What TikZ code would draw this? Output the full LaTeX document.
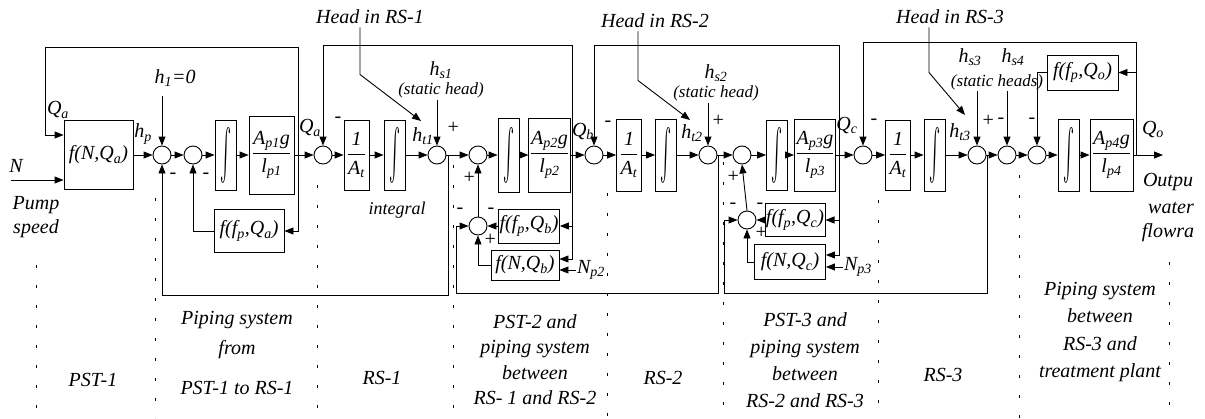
\documentclass[tikz,border=0pt]{standalone}
\usepackage{fontspec}
\setmainfont{Liberation Serif}
\usetikzlibrary{arrows.meta,positioning,calc}
\newcommand{\sbs}[1]{\textsubscript{#1}}
\newcommand{\blockfrac}[2]{$\displaystyle\frac{\mbox{#1}}{\mbox{#2}}$}
\newcommand{\intsym}{\resizebox{11pt}{54pt}{$\int$}}

\begin{document}
\begin{tikzpicture}[x=1pt, y=-1pt, line width=0.9pt,
    every node/.style={font=\fontsize{20}{24}\selectfont\itshape, inner sep=1pt},
    block/.style={draw, inner sep=1pt},
    intbox/.style={draw, minimum width=21pt, minimum height=70pt, inner sep=0pt},
    sumnode/.style={draw, circle, minimum size=18pt, inner sep=0pt},
    statlab/.style={align=center, font=\fontsize{17}{19}\selectfont\itshape},
    sig/.style={-{Triangle[length=9pt,width=7pt]}},
    bnd/.style={line width=0.8pt, dash pattern=on 3pt off 17pt}]
  \useasboundingbox (0,0) rectangle (1205,418);

  % PST-1
  \node[block, minimum width=69pt, minimum height=69pt] (fna) at (98.5,155) {f(N,Q\sbs{a})};
  \node (nlab) at (16,166) {N};
  \node[align=center] (pump) at (36,217) {Pump\\speed};
  \node (qalab) at (58,110) {Q\sbs{a}};
  \node (hplab) at (143,134) {h\sbs{p}};
  \node[sumnode] (s1) at (162,155) {};
  \node[sumnode] (s2) at (193,155) {};
  \node (h1lab) at (175,78) {h\sbs{1}=0};
  \node (m1) at (173,176) {-};
  \node (m2) at (206,176) {-};
  \node[intbox] (i1) at (225.5,155) {\intsym};
  \node[block, minimum width=45pt, minimum height=78pt] (f1) at (271.5,155) {\blockfrac{A\sbs{p1}g}{l\sbs{p1}}};
  \node[block, minimum width=70pt, minimum height=43pt] (ffa) at (249,231) {f(f\sbs{p},Q\sbs{a})};

  % RS-1
  \node[sumnode] (sqa) at (323,155) {};
  \node (qalab2) at (310,128) {Q\sbs{a}};
  \node (m3) at (338,120) {-};
  \node[block, minimum width=25pt, minimum height=70pt] (ra1) at (356.5,155) {\blockfrac{1}{A\sbs{t}}};
  \node[intbox] (ir1) at (394.5,155) {\intsym};
  \node[sumnode] (sht1) at (437,155) {};
  \node (ht1lab) at (423,136) {h\sbs{t1}};
  \node (p1) at (453,128) {+};
  \node[statlab] (hs1) at (441,80) {{\fontsize{20}{19}\selectfont h\sbs{s1}}\\(static head)};
  \node (head1) at (370,17) {Head in RS-1};
  \node[font=\fontsize{18}{20}\selectfont\itshape] (intg) at (397,210) {integral};

  % PST-2
  \node[sumnode] (su2) at (478,155) {};
  \node (p2) at (469,178) {+};
  \node[intbox, minimum height=74pt] (i2) at (508.5,155) {\intsym};
  \node[block, minimum width=40pt, minimum height=74pt] (f2) at (549.5,155) {\blockfrac{A\sbs{p2}g}{l\sbs{p2}}};
  \node[sumnode] (sl2) at (478,226) {};
  \node[block, minimum width=60pt, minimum height=34pt] (ffb) at (529,226) {f(f\sbs{p},Q\sbs{b})};
  \node[block, minimum width=68pt, minimum height=30pt] (fnb) at (525,265) {f(N,Q\sbs{b})};
  \node (np2) at (591,270) {N\sbs{p2}};
  \node (m4) at (460,211) {-};
  \node (m5) at (491,211) {-};
  \node (p3) at (490,240) {+};

  % RS-2
  \node[sumnode] (sqb) at (594,155) {};
  \node (qblab) at (583,131) {Q\sbs{b}};
  \node (m6) at (608,124) {-};
  \node[block, minimum width=25pt, minimum height=72pt] (ra2) at (629,155) {\blockfrac{1}{A\sbs{t}}};
  \node[intbox, minimum height=72pt] (ir2) at (666,155) {\intsym};
  \node[sumnode] (sht2) at (708,155) {};
  \node (ht2lab) at (692,133) {h\sbs{t2}};
  \node (p4) at (718,121) {+};
  \node[statlab] (hs2) at (716,83) {{\fontsize{20}{19}\selectfont h\sbs{s2}}\\(static head)};
  \node (head2) at (655,21) {Head in RS-2};

  % PST-3
  \node[sumnode] (su3) at (742,155) {};
  \node (p5) at (733,177) {+};
  \node[intbox] (i3) at (777,155) {\intsym};
  \node[block, minimum width=40pt, minimum height=72pt] (f3) at (815,155) {\blockfrac{A\sbs{p3}g}{l\sbs{p3}}};
  \node[sumnode] (sl3) at (747,220) {};
  \node[block, minimum width=60pt, minimum height=33pt] (ffc) at (795,220) {f(f\sbs{p},Q\sbs{c})};
  \node[block, minimum width=71pt, minimum height=35pt] (fnc) at (790,262) {f(N,Q\sbs{c})};
  \node (np3) at (858,267) {N\sbs{p3}};
  \node (m7) at (733,206) {-};
  \node (m8) at (760,206) {-};
  \node (p6) at (761,233) {+};

  % RS-3
  \node[sumnode] (sqc) at (863,155) {};
  \node (qclab) at (847,125) {Q\sbs{c}};
  \node (m9) at (874,122) {-};
  \node[block, minimum width=25pt, minimum height=70pt] (ra3) at (898,155) {\blockfrac{1}{A\sbs{t}}};
  \node[intbox, minimum height=72pt] (ir3) at (934.5,155) {\intsym};
  \node[sumnode] (sht3) at (977,155) {};
  \node (ht3lab) at (960,132) {h\sbs{t3}};
  \node (p7) at (988,121) {+};
  \node (m10) at (1001,121) {-};
  \node[sumnode] (s4) at (1007,155) {};
  \node[sumnode] (s5) at (1037,155) {};
  \node (m11) at (1032,121) {-};
  \node (hs3) at (970,57) {h\sbs{s3}};
  \node (hs4) at (1013,57) {h\sbs{s4}};
  \node[statlab] (st3) at (997,82) {(static heads)};
  \node (head3) at (950,17) {Head in RS-3};

  % treatment plant line
  \node[block, minimum width=71pt, minimum height=35pt] (ffo) at (1082.5,72.5) {f(f\sbs{p},Q\sbs{o})};
  \node[intbox, minimum height=72pt] (i4) at (1068.5,155) {\intsym};
  \node[block, minimum width=43pt, minimum height=72pt] (f4) at (1111.5,155) {\blockfrac{A\sbs{p4}g}{l\sbs{p4}}};
  \node (qolab) at (1153,129) {Q\sbs{o}};
  \node (out1) at (1168,182) {Outpu};
  \node (out2) at (1171,208) {water};
  \node (out3) at (1168,233) {flowra};

  % branch points
  \coordinate (nin) at (11,180);
  \coordinate (h1in) at (162,96);
  \coordinate (qa) at (298,155);
  \coordinate (qatop) at (298,47);
  \coordinate (qaleft) at (45,47);
  \coordinate (fb1) at (448,155);
  \coordinate (qb) at (572,155);
  \coordinate (qbtop) at (572,45);
  \coordinate (fb2) at (718,155);
  \coordinate (qc) at (839,155);
  \coordinate (qctop) at (839,45);
  \coordinate (fb3) at (987,155);
  \coordinate (qo) at (1136,155);
  \coordinate (qotop) at (1136,42);
  \coordinate (qoend) at (1163,155);
  \coordinate (ht1tip) at (421,121);
  \coordinate (ht2tip) at (690,120);
  \coordinate (ht3tip) at (965,115);

  % connectors
  \draw[sig] (nin) -- (nin -| fna.west);
  \draw[sig] (qa) -- (qatop) -- (qaleft) |- ($(fna.west)+(0,-20)$);
  \draw[sig] (fna.east) -- (s1.west);
  \draw[sig] (h1in) -- (s1.north);
  \draw[sig] (s1.east) -- (s2.west);
  \draw[sig] (s2.east) -- (i1.west);
  \draw[sig] (i1.east) -- (f1.west);
  \draw[sig] (f1.east) -- (sqa.west);
  \draw[sig] (qa) |- (ffa.east);
  \draw[sig] (ffa.west) -| (s2.south);
  \draw[sig] (fb1) -- ++(0,140) -| (s1.south);

  \draw[sig] (sqa.east) -- (ra1.west);
  \draw[sig] (ra1.east) -- (ir1.west);
  \draw[sig] (ir1.east) -- (sht1.west);
  \draw[sig] (hs1.south -| sht1) -- (sht1.north);
  \draw[sig] ($(head1.south)+(-10,2)$) -- ++(0,47) -- (ht1tip);
  \draw[sig] (qb) -- (qbtop) -| (sqa.north);

  \draw[sig] (sht1.east) -- (su2.west);
  \draw[sig] (su2.east) -- (i2.west);
  \draw[sig] (i2.east) -- (f2.west);
  \draw[sig] (f2.east) -- (sqb.west);
  \draw[sig] (qb) |- (ffb.east);
  \draw[sig] (qb) |- ($(fnb.east)+(0,-6)$);
  \draw[sig] (np2.west) -- (np2.west -| fnb.east);
  \draw[sig] (ffb.west) -- (sl2.east);
  \draw[sig] (fnb.west) -| (sl2.south);
  \draw[sig] (sl2.north) -- (su2.south);
  \draw[sig] (fb2) |- ($(sl2.west)+(-12,67)$) |- (sl2.west);

  \draw[sig] (sqb.east) -- (ra2.west);
  \draw[sig] (ra2.east) -- (ir2.west);
  \draw[sig] (ir2.east) -- (sht2.west);
  \draw[sig] (hs2.south -| sht2) -- (sht2.north);
  \draw[sig] ($(head2.south)+(-17,2)$) -- ++(0,49) -- (ht2tip);
  \draw[sig] (qc) -- (qctop) -| (sqb.north);

  \draw[sig] (sht2.east) -- (su3.west);
  \draw[sig] (su3.east) -- (i3.west);
  \draw[sig] (i3.east) -- (f3.west);
  \draw[sig] (f3.east) -- (sqc.west);
  \draw[sig] (qc) |- (ffc.east);
  \draw[sig] (qc) |- ($(fnc.east)+(0,-7)$);
  \draw[sig] (np3.west) -- (np3.west -| fnc.east);
  \draw[sig] (ffc.west) -- (sl3.east);
  \draw[sig] (fnc.west) -| (sl3.south);
  \draw[sig] (sl3.north) -- (su3.south);
  \draw[sig] (fb3) |- ($(sl3.west)+(-13,73)$) |- (sl3.west);

  \draw[sig] (sqc.east) -- (ra3.west);
  \draw[sig] (ra3.east) -- (ir3.west);
  \draw[sig] (ir3.east) -- (sht3.west);
  \draw[sig] (st3.south -| sht3) -- (sht3.north);
  \draw[sig] (st3.south -| s4) -- (s4.north);
  \draw[sig] ($(head3.south)+(-21,2)$) -- ++(0,45) -- (ht3tip);
  \draw[sig] (sht3.east) -- (s4.west);
  \draw[sig] (s4.east) -- (s5.west);
  \draw[sig] (s5.east) -- (i4.west);
  \draw[sig] (i4.east) -- (f4.west);
  \draw[sig] (f4.east) -- (qoend);
  \draw[sig] (qo) -- (qotop) -| (sqc.north);
  \draw[sig] (qo) |- (ffo.east);
  \draw[sig] (ffo.west) -| (s5.north);

  % section borders
  \foreach \xa/\ya in {36/265, 155/198, 317/185, 453/165, 607/193, 723/162, 878/200, 1019/175, 1169/262}
    \draw[bnd] (\xa,\ya) -- (\xa,418);

  % section names
  \node (sec1) at (93,380) {PST-1};
  \node[anchor=north, align=center, font=\fontsize{20}{30}\selectfont\itshape] (sec2) at (237,310) {Piping system\\from\\[10pt]PST-1 to RS-1};
  \node (sec3) at (382,378) {RS-1};
  \node[anchor=north, align=center, font=\fontsize{20}{25.5}\selectfont\itshape] (sec4) at (535,313) {PST-2 and\\piping system\\between\\RS- 1 and RS-2};
  \node (sec5) at (663,378) {RS-2};
  \node[anchor=north, align=center, font=\fontsize{20}{27}\selectfont\itshape] (sec6) at (805,311) {PST-3 and\\piping system\\between\\RS-2 and RS-3};
  \node (sec7) at (943,375) {RS-3};
  \node[anchor=north, align=center, font=\fontsize{20}{27.3}\selectfont\itshape] (sec8) at (1100,281) {Piping system\\between\\RS-3 and\\treatment plant};
\end{tikzpicture}
\end{document}
